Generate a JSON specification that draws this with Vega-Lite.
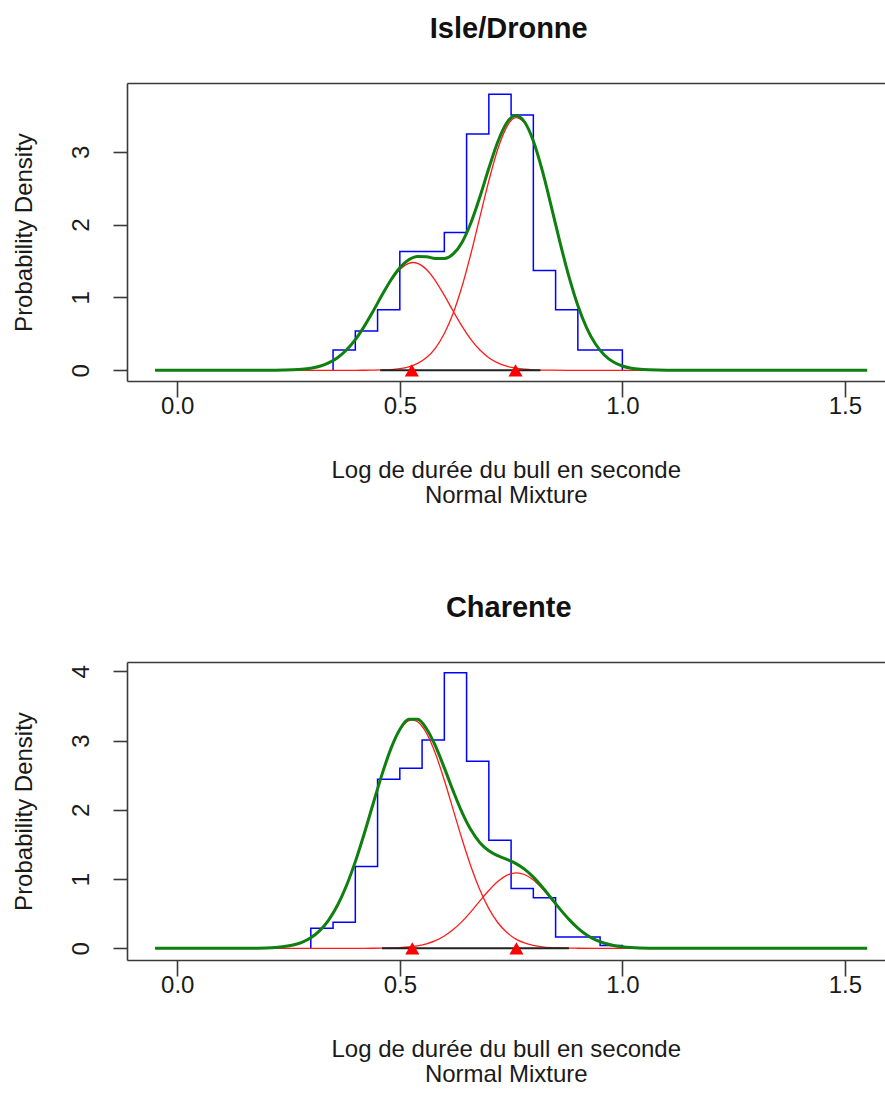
{
  "$schema": "https://vega.github.io/schema/vega-lite/v6.json",
  "padding": {"left": 12, "top": 15, "right": 0, "bottom": 0},
  "background": "white",
  "spacing": 87,
  "config": {
    "view": {"stroke": null},
    "font": "Liberation Sans, Arial, sans-serif",
    "title": {"font": "Liberation Sans, Arial, sans-serif", "fontSize": 29, "fontWeight": "bold", "color": "#111111", "anchor": "middle", "frame": "group", "offset": 39, "baseline": "alphabetic", "dx": 3},
    "axis": {"grid": false, "domainColor": "#3a3a3a", "domainWidth": 1.6, "tickColor": "#3a3a3a", "tickWidth": 1.6, "labelColor": "#1a1a1a", "titleColor": "#1a1a1a", "labelFont": "Liberation Sans, Arial, sans-serif", "titleFont": "Liberation Sans, Arial, sans-serif", "labelFontSize": 24, "titleFontSize": 24, "titleFontWeight": "normal", "labelFlush": false, "labelOverlap": false, "labelBound": false}
  },
  "datasets": {
    "hist_top": [
      {"i": 0, "x": 0.35, "y": 0}, {"i": 1, "x": 0.35, "y": 0.28}, {"i": 2, "x": 0.40, "y": 0.54}, {"i": 3, "x": 0.45, "y": 0.83},
      {"i": 4, "x": 0.50, "y": 1.63}, {"i": 5, "x": 0.55, "y": 1.63}, {"i": 6, "x": 0.60, "y": 1.89}, {"i": 7, "x": 0.65, "y": 3.245},
      {"i": 8, "x": 0.70, "y": 3.79}, {"i": 9, "x": 0.75, "y": 3.505}, {"i": 10, "x": 0.80, "y": 1.37}, {"i": 11, "x": 0.85, "y": 0.83},
      {"i": 12, "x": 0.90, "y": 0.28}, {"i": 13, "x": 0.95, "y": 0.28}, {"i": 14, "x": 1.00, "y": 0}
    ],
    "hist_bot": [
      {"i": 0, "x": 0.30, "y": 0}, {"i": 1, "x": 0.30, "y": 0.29}, {"i": 2, "x": 0.35, "y": 0.375}, {"i": 3, "x": 0.40, "y": 1.18},
      {"i": 4, "x": 0.45, "y": 2.44}, {"i": 5, "x": 0.50, "y": 2.60}, {"i": 6, "x": 0.55, "y": 3.01}, {"i": 7, "x": 0.60, "y": 3.98},
      {"i": 8, "x": 0.65, "y": 2.70}, {"i": 9, "x": 0.70, "y": 1.56}, {"i": 10, "x": 0.75, "y": 0.865}, {"i": 11, "x": 0.80, "y": 0.73},
      {"i": 12, "x": 0.85, "y": 0.165}, {"i": 13, "x": 0.90, "y": 0.165}, {"i": 14, "x": 0.95, "y": 0.04}, {"i": 15, "x": 1.00, "y": 0}
    ],
    "green_top": [
      {"x": -0.05, "y": 0}, {"x": 0.20, "y": 0}, {"x": 0.22, "y": 0.001}, {"x": 0.24, "y": 0.003}, {"x": 0.26, "y": 0.0065},
      {"x": 0.28, "y": 0.014}, {"x": 0.30, "y": 0.029}, {"x": 0.32, "y": 0.056}, {"x": 0.34, "y": 0.101}, {"x": 0.36, "y": 0.173},
      {"x": 0.38, "y": 0.278}, {"x": 0.40, "y": 0.421}, {"x": 0.42, "y": 0.603}, {"x": 0.44, "y": 0.812}, {"x": 0.46, "y": 1.032},
      {"x": 0.48, "y": 1.239}, {"x": 0.50, "y": 1.407}, {"x": 0.52, "y": 1.517}, {"x": 0.54, "y": 1.563}, {"x": 0.56, "y": 1.558},
      {"x": 0.58, "y": 1.534}, {"x": 0.60, "y": 1.533}, {"x": 0.62, "y": 1.597}, {"x": 0.64, "y": 1.759}, {"x": 0.66, "y": 2.028},
      {"x": 0.68, "y": 2.383}, {"x": 0.70, "y": 2.774}, {"x": 0.72, "y": 3.135}, {"x": 0.74, "y": 3.395}, {"x": 0.76, "y": 3.498},
      {"x": 0.78, "y": 3.412}, {"x": 0.80, "y": 3.148}, {"x": 0.82, "y": 2.744}, {"x": 0.84, "y": 2.258}, {"x": 0.86, "y": 1.753},
      {"x": 0.88, "y": 1.285}, {"x": 0.90, "y": 0.889}, {"x": 0.92, "y": 0.58}, {"x": 0.94, "y": 0.357}, {"x": 0.96, "y": 0.207},
      {"x": 0.98, "y": 0.114}, {"x": 1.00, "y": 0.059}, {"x": 1.02, "y": 0.029}, {"x": 1.04, "y": 0.013}, {"x": 1.06, "y": 0.006},
      {"x": 1.10, "y": 0.001}, {"x": 1.55, "y": 0}
    ],
    "green_bot": [
      {"x": -0.05, "y": 0}, {"x": 0.14, "y": 0}, {"x": 0.16, "y": 0.001}, {"x": 0.18, "y": 0.0025}, {"x": 0.20, "y": 0.0057},
      {"x": 0.22, "y": 0.0121}, {"x": 0.24, "y": 0.0244}, {"x": 0.26, "y": 0.0471}, {"x": 0.28, "y": 0.0867}, {"x": 0.30, "y": 0.1523},
      {"x": 0.32, "y": 0.2551}, {"x": 0.34, "y": 0.4077}, {"x": 0.36, "y": 0.6211}, {"x": 0.38, "y": 0.9029}, {"x": 0.40, "y": 1.2518},
      {"x": 0.42, "y": 1.6553}, {"x": 0.44, "y": 2.0878}, {"x": 0.46, "y": 2.512}, {"x": 0.48, "y": 2.8844}, {"x": 0.50, "y": 3.1594},
      {"x": 0.52, "y": 3.3064}, {"x": 0.54, "y": 3.308}, {"x": 0.56, "y": 3.1707}, {"x": 0.58, "y": 2.9221}, {"x": 0.60, "y": 2.6053},
      {"x": 0.62, "y": 2.2701}, {"x": 0.64, "y": 1.9601}, {"x": 0.66, "y": 1.7076}, {"x": 0.68, "y": 1.5255}, {"x": 0.70, "y": 1.4089},
      {"x": 0.72, "y": 1.3374}, {"x": 0.74, "y": 1.285}, {"x": 0.76, "y": 1.2265}, {"x": 0.78, "y": 1.1428}, {"x": 0.80, "y": 1.0277},
      {"x": 0.82, "y": 0.8848}, {"x": 0.84, "y": 0.7259}, {"x": 0.86, "y": 0.5657}, {"x": 0.88, "y": 0.418}, {"x": 0.90, "y": 0.2928},
      {"x": 0.92, "y": 0.1937}, {"x": 0.94, "y": 0.1217}, {"x": 0.96, "y": 0.0723}, {"x": 0.98, "y": 0.0406}, {"x": 1.00, "y": 0.0216},
      {"x": 1.02, "y": 0.0109}, {"x": 1.04, "y": 0.0052}, {"x": 1.06, "y": 0.0023}, {"x": 1.10, "y": 0.0004}, {"x": 1.55, "y": 0}
    ],
    "red_top": [
      {"s": "c1", "x": 0.248, "y": 0.004}, {"s": "c1", "x": 0.26, "y": 0.0065}, {"s": "c1", "x": 0.28, "y": 0.0142}, {"s": "c1", "x": 0.30, "y": 0.029},
      {"s": "c1", "x": 0.32, "y": 0.0557}, {"s": "c1", "x": 0.34, "y": 0.101}, {"s": "c1", "x": 0.36, "y": 0.1726}, {"s": "c1", "x": 0.38, "y": 0.2778},
      {"s": "c1", "x": 0.40, "y": 0.421}, {"s": "c1", "x": 0.42, "y": 0.602}, {"s": "c1", "x": 0.44, "y": 0.8105}, {"s": "c1", "x": 0.46, "y": 1.028},
      {"s": "c1", "x": 0.48, "y": 1.229}, {"s": "c1", "x": 0.50, "y": 1.384}, {"s": "c1", "x": 0.52, "y": 1.469}, {"s": "c1", "x": 0.53, "y": 1.48},
      {"s": "c1", "x": 0.54, "y": 1.469}, {"s": "c1", "x": 0.56, "y": 1.384}, {"s": "c1", "x": 0.58, "y": 1.229}, {"s": "c1", "x": 0.60, "y": 1.028},
      {"s": "c1", "x": 0.62, "y": 0.8105}, {"s": "c1", "x": 0.64, "y": 0.602}, {"s": "c1", "x": 0.66, "y": 0.421}, {"s": "c1", "x": 0.68, "y": 0.2778},
      {"s": "c1", "x": 0.70, "y": 0.1726}, {"s": "c1", "x": 0.72, "y": 0.101}, {"s": "c1", "x": 0.74, "y": 0.0557}, {"s": "c1", "x": 0.76, "y": 0.029},
      {"s": "c1", "x": 0.78, "y": 0.0142}, {"s": "c1", "x": 0.80, "y": 0.0065}, {"s": "c1", "x": 0.82, "y": 0.0028}, {"s": "c1", "x": 0.84, "y": 0.001},
      {"s": "c1", "x": 0.88, "y": 0}, {"s": "c1", "x": 1.065, "y": 0},
      {"s": "c2", "x": 0.248, "y": 0}, {"s": "c2", "x": 0.40, "y": 0}, {"s": "c2", "x": 0.42, "y": 0.0007}, {"s": "c2", "x": 0.44, "y": 0.0018},
      {"s": "c2", "x": 0.46, "y": 0.0044}, {"s": "c2", "x": 0.48, "y": 0.0104}, {"s": "c2", "x": 0.50, "y": 0.0229}, {"s": "c2", "x": 0.52, "y": 0.0477},
      {"s": "c2", "x": 0.54, "y": 0.0939}, {"s": "c2", "x": 0.56, "y": 0.1743}, {"s": "c2", "x": 0.58, "y": 0.3053}, {"s": "c2", "x": 0.60, "y": 0.5045},
      {"s": "c2", "x": 0.62, "y": 0.7865}, {"s": "c2", "x": 0.64, "y": 1.157}, {"s": "c2", "x": 0.66, "y": 1.607}, {"s": "c2", "x": 0.68, "y": 2.105},
      {"s": "c2", "x": 0.70, "y": 2.601}, {"s": "c2", "x": 0.72, "y": 3.034}, {"s": "c2", "x": 0.74, "y": 3.339}, {"s": "c2", "x": 0.76, "y": 3.469},
      {"s": "c2", "x": 0.78, "y": 3.398}, {"s": "c2", "x": 0.80, "y": 3.142}, {"s": "c2", "x": 0.82, "y": 2.741}, {"s": "c2", "x": 0.84, "y": 2.257},
      {"s": "c2", "x": 0.86, "y": 1.753}, {"s": "c2", "x": 0.88, "y": 1.285}, {"s": "c2", "x": 0.90, "y": 0.889}, {"s": "c2", "x": 0.92, "y": 0.58},
      {"s": "c2", "x": 0.94, "y": 0.357}, {"s": "c2", "x": 0.96, "y": 0.207}, {"s": "c2", "x": 0.98, "y": 0.114}, {"s": "c2", "x": 1.00, "y": 0.059},
      {"s": "c2", "x": 1.02, "y": 0.029}, {"s": "c2", "x": 1.04, "y": 0.013}, {"s": "c2", "x": 1.065, "y": 0.005}
    ],
    "red_bot": [
      {"s": "c1", "x": 0.18, "y": 0.0025}, {"s": "c1", "x": 0.20, "y": 0.0057}, {"s": "c1", "x": 0.22, "y": 0.0121}, {"s": "c1", "x": 0.24, "y": 0.0244},
      {"s": "c1", "x": 0.26, "y": 0.0471}, {"s": "c1", "x": 0.28, "y": 0.0867}, {"s": "c1", "x": 0.30, "y": 0.1523}, {"s": "c1", "x": 0.32, "y": 0.2551},
      {"s": "c1", "x": 0.34, "y": 0.4077}, {"s": "c1", "x": 0.36, "y": 0.6211}, {"s": "c1", "x": 0.38, "y": 0.9029}, {"s": "c1", "x": 0.40, "y": 1.2517},
      {"s": "c1", "x": 0.42, "y": 1.655}, {"s": "c1", "x": 0.44, "y": 2.087}, {"s": "c1", "x": 0.46, "y": 2.51}, {"s": "c1", "x": 0.48, "y": 2.88},
      {"s": "c1", "x": 0.50, "y": 3.15}, {"s": "c1", "x": 0.52, "y": 3.2875}, {"s": "c1", "x": 0.528, "y": 3.3}, {"s": "c1", "x": 0.54, "y": 3.272},
      {"s": "c1", "x": 0.56, "y": 3.106}, {"s": "c1", "x": 0.58, "y": 2.812}, {"s": "c1", "x": 0.60, "y": 2.428}, {"s": "c1", "x": 0.62, "y": 2.0},
      {"s": "c1", "x": 0.64, "y": 1.571}, {"s": "c1", "x": 0.66, "y": 1.177}, {"s": "c1", "x": 0.68, "y": 0.841}, {"s": "c1", "x": 0.70, "y": 0.5735},
      {"s": "c1", "x": 0.72, "y": 0.3726}, {"s": "c1", "x": 0.74, "y": 0.231}, {"s": "c1", "x": 0.76, "y": 0.1365}, {"s": "c1", "x": 0.78, "y": 0.077},
      {"s": "c1", "x": 0.80, "y": 0.0414}, {"s": "c1", "x": 0.82, "y": 0.0212}, {"s": "c1", "x": 0.84, "y": 0.0104}, {"s": "c1", "x": 0.86, "y": 0.0049},
      {"s": "c1", "x": 0.88, "y": 0.0022}, {"s": "c1", "x": 0.90, "y": 0.001}, {"s": "c1", "x": 0.94, "y": 0}, {"s": "c1", "x": 1.064, "y": 0},
      {"s": "c2", "x": 0.18, "y": 0}, {"s": "c2", "x": 0.38, "y": 0}, {"s": "c2", "x": 0.40, "y": 0.0001}, {"s": "c2", "x": 0.42, "y": 0.0003},
      {"s": "c2", "x": 0.44, "y": 0.0008}, {"s": "c2", "x": 0.46, "y": 0.002}, {"s": "c2", "x": 0.48, "y": 0.0044}, {"s": "c2", "x": 0.50, "y": 0.0094},
      {"s": "c2", "x": 0.52, "y": 0.0189}, {"s": "c2", "x": 0.54, "y": 0.036}, {"s": "c2", "x": 0.56, "y": 0.0647}, {"s": "c2", "x": 0.58, "y": 0.1101},
      {"s": "c2", "x": 0.60, "y": 0.1773}, {"s": "c2", "x": 0.62, "y": 0.2701}, {"s": "c2", "x": 0.64, "y": 0.3891}, {"s": "c2", "x": 0.66, "y": 0.5306},
      {"s": "c2", "x": 0.68, "y": 0.6845}, {"s": "c2", "x": 0.70, "y": 0.8354}, {"s": "c2", "x": 0.72, "y": 0.9648}, {"s": "c2", "x": 0.74, "y": 1.054},
      {"s": "c2", "x": 0.762, "y": 1.09}, {"s": "c2", "x": 0.78, "y": 1.0658}, {"s": "c2", "x": 0.80, "y": 0.9863}, {"s": "c2", "x": 0.82, "y": 0.8636},
      {"s": "c2", "x": 0.84, "y": 0.7155}, {"s": "c2", "x": 0.86, "y": 0.5608}, {"s": "c2", "x": 0.88, "y": 0.4158}, {"s": "c2", "x": 0.90, "y": 0.2918},
      {"s": "c2", "x": 0.92, "y": 0.1937}, {"s": "c2", "x": 0.94, "y": 0.1217}, {"s": "c2", "x": 0.96, "y": 0.0723}, {"s": "c2", "x": 0.98, "y": 0.0406},
      {"s": "c2", "x": 1.00, "y": 0.0216}, {"s": "c2", "x": 1.02, "y": 0.0109}, {"s": "c2", "x": 1.04, "y": 0.0052}, {"s": "c2", "x": 1.064, "y": 0.002}
    ],
    "base_top": [{"x": 0.456, "y": 0}, {"x": 0.816, "y": 0}],
    "base_bot": [{"x": 0.46, "y": 0}, {"x": 0.88, "y": 0}],
    "mean_top": [{"x": 0.527, "y": 0}, {"x": 0.76, "y": 0}],
    "mean_bot": [{"x": 0.528, "y": 0}, {"x": 0.762, "y": 0}]
  },
  "vconcat": [
    {
      "title": {"text": "Isle/Dronne"},
      "width": 757.5,
      "height": 298,
      "resolve": {"axis": {"x": "independent"}},
      "layer": [
        {
          "encoding": {
            "x": {"field": "x", "type": "quantitative", "scale": {"domain": [-0.113, 1.589], "nice": false, "zero": false},
                  "axis": {"values": [0, 0.5, 1, 1.5], "format": ".1f", "tickSize": 16, "labelPadding": 16, "labelBaseline": "alphabetic",
                           "title": ["Log de durée du bull en seconde", "Normal Mixture"], "titleY": 96, "titleBaseline": "alphabetic", "titleLineHeight": 25}},
            "y": {"field": "y", "type": "quantitative", "scale": {"domain": [-0.147, 3.944], "nice": false, "zero": false},
                  "axis": {"values": [0, 1, 2, 3], "tickSize": 14, "labelAngle": 270, "labelAlign": "center", "labelBaseline": "alphabetic", "labelPadding": 24.5,
                           "title": "Probability Density", "titleAngle": 270, "titleAlign": "center", "titleBaseline": "alphabetic", "titleX": -95.5, "titleY": 149}}
          },
          "layer": [
            {"data": {"name": "hist_top"}, "mark": {"type": "line", "interpolate": "step-after", "color": "#0000ff", "strokeWidth": 1.5}, "encoding": {"order": {"field": "i", "type": "quantitative"}}},
            {"data": {"name": "red_top"}, "mark": {"type": "line", "interpolate": "monotone", "color": "#ff1a1a", "strokeWidth": 1.3}, "encoding": {"detail": {"field": "s", "type": "nominal"}}},
            {"data": {"name": "green_top"}, "mark": {"type": "line", "interpolate": "monotone", "color": "#0f7f0f", "strokeWidth": 3}, "encoding": {}},
            {"data": {"name": "base_top"}, "mark": {"type": "line", "color": "#222222", "strokeWidth": 2}, "encoding": {}},
            {"data": {"name": "mean_top"}, "mark": {"type": "point", "shape": "triangle-up", "filled": true, "color": "#ff0000", "opacity": 1, "size": 200}, "encoding": {}}
          ]
        },
        {
          "data": {"name": "base_top"},
          "mark": {"type": "line", "strokeOpacity": 0},
          "encoding": {
            "x": {"field": "x", "type": "quantitative", "axis": {"orient": "top", "labels": false, "ticks": false, "title": null, "domain": true}},
            "y": {"field": "y", "type": "quantitative",
                  "axis": {"values": [0, 1, 2, 3], "tickSize": 14, "labelAngle": 270, "labelAlign": "center", "labelBaseline": "alphabetic", "labelPadding": 24.5,
                           "title": "Probability Density", "titleAngle": 270, "titleAlign": "center", "titleBaseline": "alphabetic", "titleX": -95.5, "titleY": 149}}
          }
        }
      ]
    },
    {
      "title": {"text": "Charente"},
      "width": 757.5,
      "height": 298,
      "resolve": {"axis": {"x": "independent"}},
      "layer": [
        {
          "encoding": {
            "x": {"field": "x", "type": "quantitative", "scale": {"domain": [-0.113, 1.589], "nice": false, "zero": false},
                  "axis": {"values": [0, 0.5, 1, 1.5], "format": ".1f", "tickSize": 16, "labelPadding": 16, "labelBaseline": "alphabetic",
                           "title": ["Log de durée du bull en seconde", "Normal Mixture"], "titleY": 96, "titleBaseline": "alphabetic", "titleLineHeight": 25}},
            "y": {"field": "y", "type": "quantitative", "scale": {"domain": [-0.169, 4.135], "nice": false, "zero": false},
                  "axis": {"values": [0, 1, 2, 3, 4], "tickSize": 14, "labelAngle": 270, "labelAlign": "center", "labelBaseline": "alphabetic", "labelPadding": 24.5,
                           "title": "Probability Density", "titleAngle": 270, "titleAlign": "center", "titleBaseline": "alphabetic", "titleX": -95.5, "titleY": 149}}
          },
          "layer": [
            {"data": {"name": "hist_bot"}, "mark": {"type": "line", "interpolate": "step-after", "color": "#0000ff", "strokeWidth": 1.5}, "encoding": {"order": {"field": "i", "type": "quantitative"}}},
            {"data": {"name": "red_bot"}, "mark": {"type": "line", "interpolate": "monotone", "color": "#ff1a1a", "strokeWidth": 1.3}, "encoding": {"detail": {"field": "s", "type": "nominal"}}},
            {"data": {"name": "green_bot"}, "mark": {"type": "line", "interpolate": "monotone", "color": "#0f7f0f", "strokeWidth": 3}, "encoding": {}},
            {"data": {"name": "base_bot"}, "mark": {"type": "line", "color": "#222222", "strokeWidth": 2}, "encoding": {}},
            {"data": {"name": "mean_bot"}, "mark": {"type": "point", "shape": "triangle-up", "filled": true, "color": "#ff0000", "opacity": 1, "size": 200}, "encoding": {}}
          ]
        },
        {
          "data": {"name": "base_bot"},
          "mark": {"type": "line", "strokeOpacity": 0},
          "encoding": {
            "x": {"field": "x", "type": "quantitative", "axis": {"orient": "top", "labels": false, "ticks": false, "title": null, "domain": true}},
            "y": {"field": "y", "type": "quantitative",
                  "axis": {"values": [0, 1, 2, 3, 4], "tickSize": 14, "labelAngle": 270, "labelAlign": "center", "labelBaseline": "alphabetic", "labelPadding": 24.5,
                           "title": "Probability Density", "titleAngle": 270, "titleAlign": "center", "titleBaseline": "alphabetic", "titleX": -95.5, "titleY": 149}}
          }
        }
      ]
    }
  ]
}
